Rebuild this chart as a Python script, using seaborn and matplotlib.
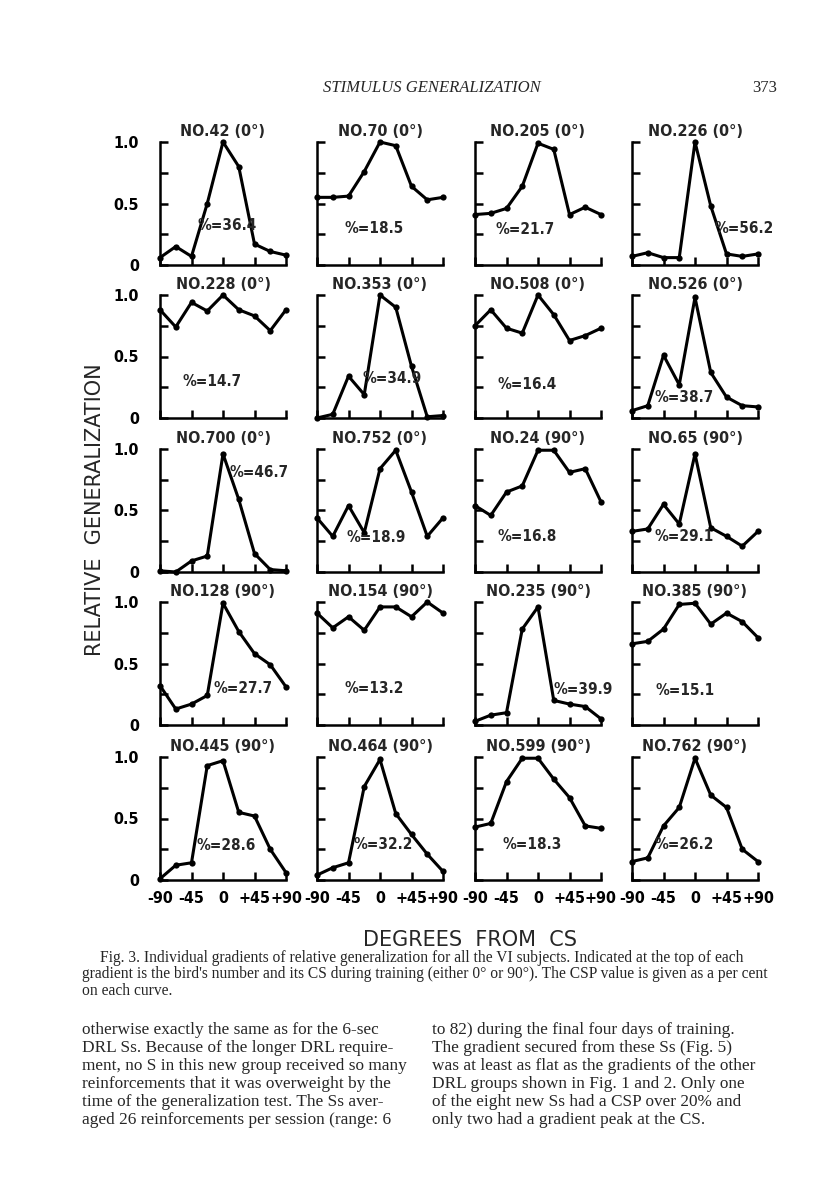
import matplotlib
matplotlib.use("Agg")
import matplotlib.pyplot as plt
import numpy as np
import pandas as pd
import seaborn as sns

# ---------------- data ----------------
degrees = [-90, -67.5, -45, -22.5, 0, 22.5, 45, 67.5, 90]
subjects = ["42", "70", "205", "226",
            "228", "353", "508", "526",
            "700", "752", "24", "65",
            "128", "154", "235", "385",
            "445", "464", "599", "762"]
cs_train = ["0°", "0°", "0°", "0°",
            "0°", "0°", "0°", "0°",
            "0°", "0°", "90°", "90°",
            "90°", "90°", "90°", "90°",
            "90°", "90°", "90°", "90°"]
csp = ["36.4", "18.5", "21.7", "56.2",
       "14.7", "34.9", "16.4", "38.7",
       "46.7", "18.9", "16.8", "29.1",
       "27.7", "13.2", "39.9", "15.1",
       "28.6", "32.2", "18.3", "26.2"]

g42 = [0.06, 0.15, 0.07, 0.50, 1.00, 0.80, 0.17, 0.11, 0.08]
g70 = [0.55, 0.55, 0.56, 0.76, 1.00, 0.97, 0.64, 0.53, 0.55]
g205 = [0.41, 0.42, 0.46, 0.64, 0.99, 0.94, 0.41, 0.47, 0.41]
g226 = [0.07, 0.10, 0.06, 0.06, 1.00, 0.48, 0.09, 0.07, 0.09]
g228 = [0.88, 0.74, 0.94, 0.87, 1.00, 0.88, 0.83, 0.71, 0.88]
g353 = [0.00, 0.03, 0.34, 0.19, 1.00, 0.90, 0.42, 0.01, 0.02]
g508 = [0.75, 0.88, 0.73, 0.69, 1.00, 0.84, 0.63, 0.67, 0.73]
g526 = [0.06, 0.10, 0.51, 0.27, 0.98, 0.37, 0.17, 0.10, 0.09]
g700 = [0.01, 0.00, 0.09, 0.13, 0.96, 0.59, 0.15, 0.02, 0.01]
g752 = [0.44, 0.29, 0.54, 0.32, 0.84, 0.99, 0.65, 0.29, 0.44]
g24 = [0.54, 0.46, 0.65, 0.70, 0.99, 0.99, 0.81, 0.84, 0.57]
g65 = [0.33, 0.35, 0.55, 0.39, 0.96, 0.36, 0.29, 0.21, 0.33]
g128 = [0.32, 0.13, 0.17, 0.24, 0.99, 0.76, 0.58, 0.49, 0.31]
g154 = [0.91, 0.79, 0.88, 0.77, 0.96, 0.96, 0.88, 1.00, 0.91]
g235 = [0.03, 0.08, 0.10, 0.78, 0.96, 0.20, 0.17, 0.15, 0.05]
g385 = [0.66, 0.68, 0.78, 0.98, 0.99, 0.82, 0.91, 0.84, 0.71]
g445 = [0.01, 0.12, 0.14, 0.93, 0.97, 0.55, 0.52, 0.25, 0.06]
g464 = [0.04, 0.10, 0.14, 0.76, 0.98, 0.54, 0.37, 0.21, 0.07]
g599 = [0.43, 0.46, 0.80, 0.99, 0.99, 0.82, 0.67, 0.44, 0.42]
g762 = [0.15, 0.18, 0.44, 0.59, 0.99, 0.69, 0.59, 0.25, 0.15]

gradients = [g42, g70, g205, g226, g228, g353, g508, g526, g700, g752,
             g24, g65, g128, g154, g235, g385, g445, g464, g599, g762]

xtick_vals = [-90, -45, 0, 45, 90]
xtick_labels = ["-90", "-45", "0", "+45", "+90"]
ytick_vals = [0, 0.25, 0.5, 0.75, 1.0]
ytick_labels = ["0", "", "0.5", "", "1.0"]

# layout of the CSP annotation inside each panel (data coordinates)
label_pos = [(6, 0.32), (-9, 0.30), (-18, 0.29), (70, 0.30),
             (-16, 0.30), (17, 0.32), (-16, 0.27), (-16, 0.17),
             (51, 0.81), (-5, 0.28), (-16, 0.29), (-15, 0.29),
             (28, 0.30), (-9, 0.30), (64, 0.29), (-14, 0.28),
             (5, 0.28), (5, 0.29), (-9, 0.29), (-15, 0.29)]

# ---------------- figure ----------------
sns.set_theme(style="ticks")
plt.rcParams["font.family"] = ["DejaVu Sans"]

W, H = 816, 1188
fig = plt.figure(figsize=(W / 100, H / 100), dpi=100)
fig.patch.set_facecolor("white")

col_left = [160, 317, 475, 632]
row_top = [142, 295, 449, 602, 757]
pw, ph = 126, 123

cond = dict(fontstretch="condensed", fontweight="bold")

for i, vals in enumerate(gradients):
    r, c = divmod(i, 4)
    l = col_left[c] / W
    b = 1 - (row_top[r] + ph) / H
    ax = fig.add_axes([l, b, pw / W, ph / H])
    ax.set_facecolor("none")
    df = pd.DataFrame({"deg": degrees, "rg": vals})
    sns.lineplot(data=df, x="deg", y="rg", ax=ax, color="black", lw=2.2,
                 marker="o", markersize=4.5, markeredgewidth=0,
                 clip_on=False)
    ax.set_xlim(-90, 90)
    ax.set_ylim(0, 1.0)
    sns.despine(ax=ax)
    for s in ("left", "bottom"):
        ax.spines[s].set_linewidth(1.8)
        ax.spines[s].set_color("black")
    ax.set_xticks(xtick_vals)
    ax.set_yticks(ytick_vals)
    ax.tick_params(direction="in", length=6, width=1.8, colors="black")
    if r == 4:
        ax.set_xticklabels(xtick_labels, fontsize=11.5, **cond)
        ax.tick_params(axis="x", pad=8)
    else:
        ax.set_xticklabels([])
    if c == 0:
        ax.set_yticklabels(ytick_labels, fontsize=11.5, **cond)
        ax.tick_params(axis="y", pad=15)
    else:
        ax.set_yticklabels([])
    ax.set_xlabel("")
    ax.set_ylabel("")
    ax.set_title(f"NO.{subjects[i]} ({cs_train[i]})", fontsize=11.5,
                 pad=4, **cond)
    lx, ly = label_pos[i]
    ax.text(lx, ly, f"%={csp[i]}", ha="center", va="center",
            fontsize=11, **cond)

# axis titles
fig.text(95 / W, 1 - 510 / H, "RELATIVE  GENERALIZATION", rotation=90,
         ha="center", va="center", fontsize=15)
fig.text(470 / W, 1 - 940 / H, "DEGREES  FROM  CS", ha="center",
         va="center", fontsize=15)

# page header
serif = ["Liberation Serif", "DejaVu Serif"]
fig.text(432 / W, 1 - 88 / H, "STIMULUS GENERALIZATION", ha="center",
         va="center", fontsize=12, style="italic", family=serif)
fig.text(765 / W, 1 - 88 / H, "373", ha="center", va="center",
         fontsize=12, family=serif)

# caption
cap = ["Fig. 3. Individual gradients of relative generalization for all the VI subjects. Indicated at the top of each",
       "gradient is the bird's number and its CS during training (either 0° or 90°). The CSP value is given as a per cent",
       "on each curve."]
cap_x = [100, 82, 82]
for k, line in enumerate(cap):
    fig.text(cap_x[k] / W, 1 - (958 + 16.5 * k) / H, line, ha="left",
             va="center", fontsize=11.2, family=serif)

left_col = ["otherwise exactly the same as for the 6-sec",
            "DRL Ss. Because of the longer DRL require-",
            "ment, no S in this new group received so many",
            "reinforcements that it was overweight by the",
            "time of the generalization test. The Ss aver-",
            "aged 26 reinforcements per session (range: 6"]
right_col = ["to 82) during the final four days of training.",
             "The gradient secured from these Ss (Fig. 5)",
             "was at least as flat as the gradients of the other",
             "DRL groups shown in Fig. 1 and 2. Only one",
             "of the eight new Ss had a CSP over 20% and",
             "only two had a gradient peak at the CS."]
for k, line in enumerate(left_col):
    fig.text(82 / W, 1 - (1030 + 18 * k) / H, line, ha="left",
             va="center", fontsize=12.4, family=serif)
for k, line in enumerate(right_col):
    fig.text(432 / W, 1 - (1030 + 18 * k) / H, line, ha="left",
             va="center", fontsize=12.4, family=serif)

fig.savefig("out.png", dpi=100, facecolor="white")
